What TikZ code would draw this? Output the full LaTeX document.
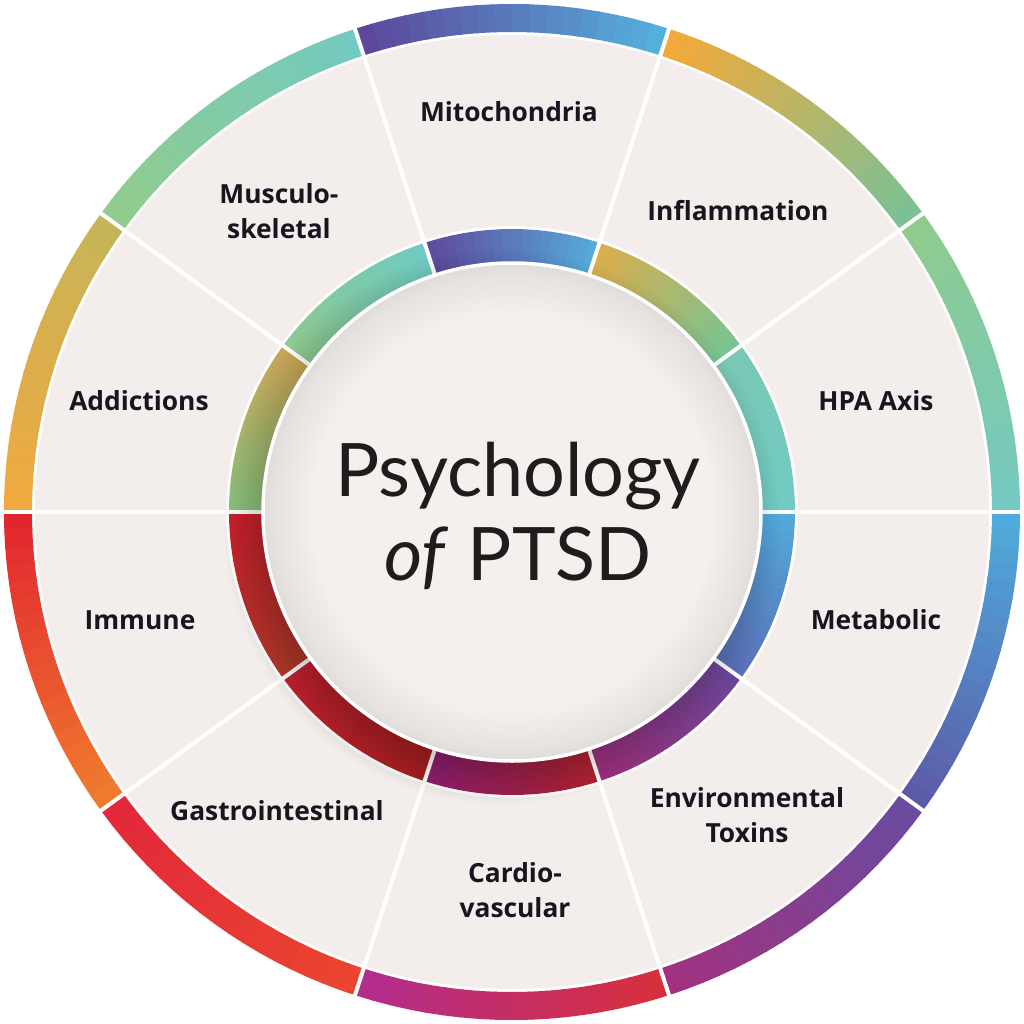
\documentclass[tikz,border=0pt]{standalone}
\usepackage{fontspec}
\setmainfont{Lato}
\newfontfamily\labelfont{Open Sans}
\usetikzlibrary{fadings}

\definecolor{segfill}{HTML}{F3EEEB}
\definecolor{labeltext}{HTML}{17151F}
\definecolor{titletext}{HTML}{1E1C1C}
\definecolor{diskfill}{HTML}{F4F0EE}
\definecolor{diskedge}{HTML}{E0DCD9}
% outer band, colour at start angle (A) and end angle (B)
\definecolor{hpaA}{HTML}{74C9C2}\definecolor{hpaB}{HTML}{8FCB8E}
\definecolor{infA}{HTML}{7BC195}\definecolor{infB}{HTML}{F2A93B}
\definecolor{mitA}{HTML}{55AFDD}\definecolor{mitB}{HTML}{5B489C}
\definecolor{musA}{HTML}{73CAC0}\definecolor{musB}{HTML}{91CC8D}
\definecolor{addA}{HTML}{C6B459}\definecolor{addB}{HTML}{F0A93F}
\definecolor{immA}{HTML}{E2262F}\definecolor{immB}{HTML}{F07A2E}
\definecolor{gasA}{HTML}{E2283A}\definecolor{gasB}{HTML}{EA4530}
\definecolor{carA}{HTML}{B32D8D}\definecolor{carB}{HTML}{D7303D}
\definecolor{envA}{HTML}{A1327F}\definecolor{envB}{HTML}{6B4A9F}
\definecolor{metA}{HTML}{5C5AA9}\definecolor{metB}{HTML}{4FABDB}
% inner ring
\definecolor{ihpaA}{HTML}{72CBC3}\definecolor{ihpaB}{HTML}{79C8B5}
\definecolor{iinfA}{HTML}{7AC392}\definecolor{iinfB}{HTML}{D9AE4F}
\definecolor{imitA}{HTML}{56A9D9}\definecolor{imitB}{HTML}{5E4C9F}
\definecolor{imusA}{HTML}{70CAC1}\definecolor{imusB}{HTML}{8DC991}
\definecolor{iaddA}{HTML}{C8A456}\definecolor{iaddB}{HTML}{8CC47E}
\definecolor{iimmA}{HTML}{C9202B}\definecolor{iimmB}{HTML}{B3392B}
\definecolor{igasA}{HTML}{C42130}\definecolor{igasB}{HTML}{A82020}
\definecolor{icarA}{HTML}{8F1F6E}\definecolor{icarB}{HTML}{B0222F}
\definecolor{ienvA}{HTML}{9C2F7C}\definecolor{ienvB}{HTML}{6D4698}
\definecolor{imetA}{HTML}{5B6FB8}\definecolor{imetB}{HTML}{52AADA}

\pgfdeclareradialshading{dome}{\pgfpoint{0bp}{0bp}}{color(0bp)=(diskfill); color(20bp)=(diskfill); color(24bp)=(diskedge!70!diskfill); color(25bp)=(diskedge); color(50bp)=(diskedge)}

% one 36 degree piece of a ring, shaded from colour #4 to colour #5
\newcommand{\bandarc}[5]{%
  \foreach \k in {0,...,17}{%
    \pgfmathsetmacro{\ta}{#1+2*\k}%
    \pgfmathsetmacro{\tb}{#1+2*\k+2.2}%
    \pgfmathtruncatemacro{\mix}{100-100*\k/17}%
    \fill[#4!\mix!#5] (\ta:#2) arc[start angle=\ta, end angle=\tb, radius=#2]
      -- (\tb:#3) arc[start angle=\tb, end angle=\ta, radius=#3] -- cycle;
  }%
}

\tikzset{
  seglabel/.style={font=\labelfont\bfseries\fontsize{15}{19.9}\selectfont, text=labeltext, align=center},
  divider/.style={white, line width=0.8mm},
}

\begin{document}
\begin{tikzpicture}[x=0.2mm, y=0.2mm]
  \useasboundingbox (-512,-512) rectangle (512,512);
  \fill[white] (-512,-512) rectangle (512,512);
  \fill[segfill] (0,0) circle (477);
  % outer band
  \foreach \a/\ca/\cb in {0/hpaA/hpaB, 36/infA/infB, 72/mitA/mitB, 108/musA/musB,
      144/addA/addB, 180/immA/immB, 216/gasA/gasB, 252/carA/carB,
      288/envA/envB, 324/metA/metB}
    {\bandarc{\a}{480}{508}{\ca}{\cb}}
  % inner ring
  \foreach \a/\ca/\cb in {0/ihpaA/ihpaB, 36/iinfA/iinfB, 72/imitA/imitB, 108/imusA/imusB,
      144/iaddA/iaddB, 180/iimmA/iimmB, 216/igasA/igasB, 252/icarA/icarB,
      288/ienvA/ienvB, 324/imetA/imetB}
    {\bandarc{\a}{246}{283}{\ca}{\cb}}
  \draw[white, line width=0.5mm] (0,0) circle (284.5);
  \foreach \a in {0,36,...,324}
    \draw[divider] (0,0) -- (\a:515);
  % shadow and centre disk
  \fill[black, opacity=0.2, path fading=circle with fuzzy edge 15 percent] (-10,-14) circle (278);
  \shade[shading=dome] (0,0) circle (248);
  \draw[white, line width=0.7mm] (0,0) circle (249);

  \node[seglabel] (mito) at (-3,400) {Mitochondria};
  \node[seglabel] (inflam) at (226,301) {Inflammation};
  \node[seglabel] (hpa) at (364,111) {HPA Axis};
  \node[seglabel] (metab) at (364,-108) {Metabolic};
  \node[seglabel] (envtox) at (235,-303) {Environmental\\Toxins};
  \node[seglabel] (cardio) at (3,-378) {Cardio-\\vascular};
  \node[seglabel] (gastro) at (-235,-299) {Gastrointestinal};
  \node[seglabel] (immune) at (-372,-108) {Immune};
  \node[seglabel] (addict) at (-373,111) {Addictions};
  \node[seglabel] (musc) at (-233,301) {Musculo-\\skeletal};

  \node[font=\fontsize{42}{48}\selectfont, text=titletext, align=center] (title) at (6,-4)
    {Psychology\\\textit{of} PTSD};
\end{tikzpicture}
\end{document}
